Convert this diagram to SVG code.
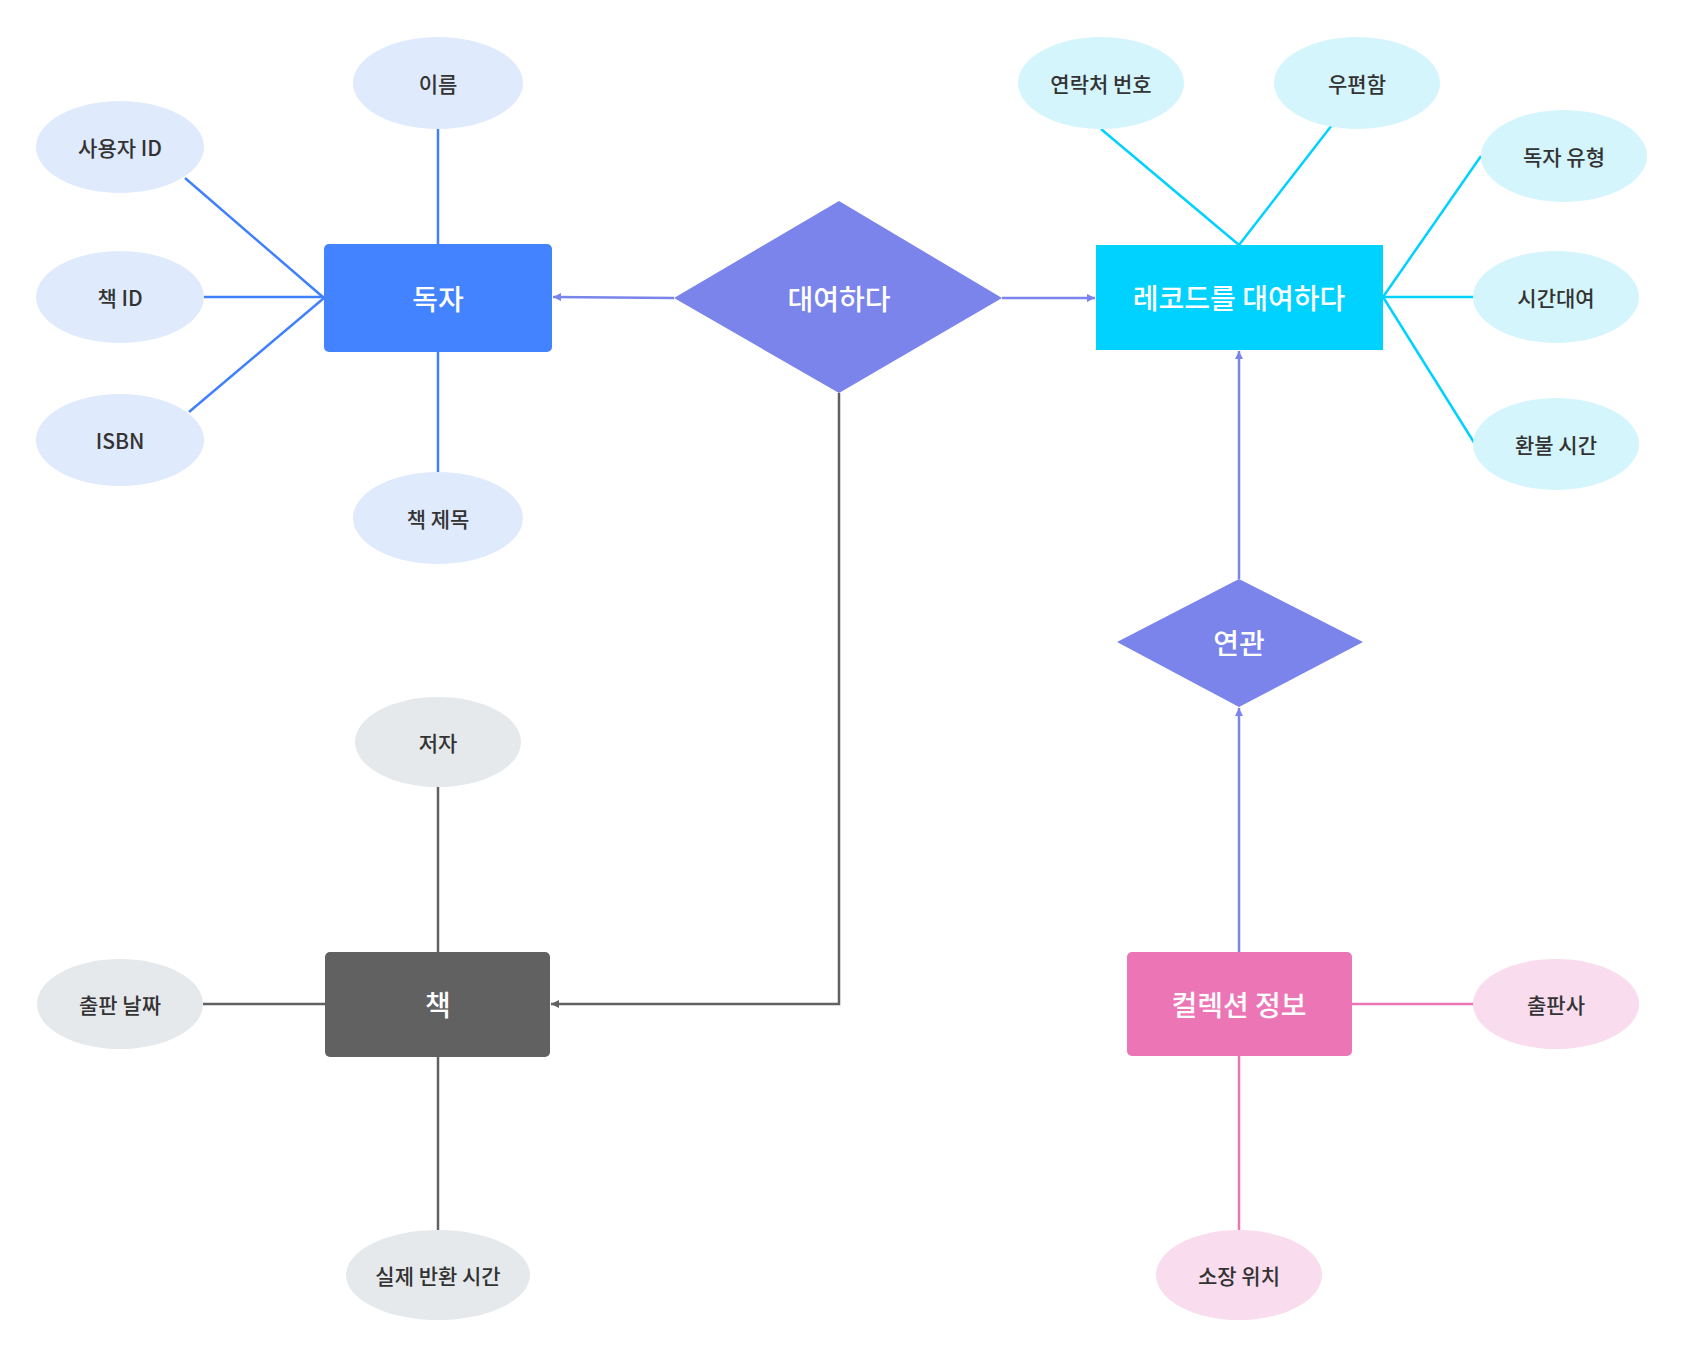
<svg xmlns="http://www.w3.org/2000/svg" width="1681" height="1354" viewBox="0 0 1681 1354">
<style>
text{font-family:"Noto Sans CJK KR","Noto Sans",sans-serif;text-anchor:middle;dominant-baseline:central}
.a{font-size:21px;fill:#333;font-weight:500}
.e{font-size:28px;fill:#fff;font-weight:500}
.ln{fill:none;stroke-width:2.5}
.b{stroke:#4080ff}.c{stroke:#00d2ff}.g{stroke:#616161}.p{stroke:#ec76b5}.v{stroke:#7b84eb}
.lb{fill:#dfeafd}.lc{fill:#d5f5fc}.lg{fill:#e6e9ec}.lp{fill:#f9dced}
</style>
<defs>
<marker id="av" viewBox="0 0 10 10" refX="10" refY="5" markerWidth="8" markerHeight="8" markerUnits="userSpaceOnUse" orient="auto"><path d="M0,0 L10,5 L0,10 z" fill="#7b84eb"/></marker>
<marker id="ag" viewBox="0 0 10 10" refX="10" refY="5" markerWidth="8" markerHeight="8" markerUnits="userSpaceOnUse" orient="auto"><path d="M0,0 L10,5 L0,10 z" fill="#616161"/></marker>
</defs>
<rect width="1681" height="1354" fill="#fff"/>
<g id="connectors">
<line class="ln b" x1="438" y1="129" x2="438" y2="244"/>
<line class="ln b" x1="185" y1="178" x2="324" y2="298"/>
<line class="ln b" x1="204" y1="297" x2="324" y2="297"/>
<line class="ln b" x1="189" y1="412" x2="324" y2="298"/>
<line class="ln b" x1="438" y1="352" x2="438" y2="472"/>
<line class="ln c" x1="1101" y1="129" x2="1239" y2="245"/>
<line class="ln c" x1="1332" y1="125" x2="1239" y2="245"/>
<line class="ln c" x1="1481" y1="156" x2="1383" y2="297"/>
<line class="ln c" x1="1474" y1="297" x2="1383" y2="297"/>
<line class="ln c" x1="1475" y1="444" x2="1383" y2="297"/>
<line class="ln g" x1="438" y1="787" x2="438" y2="952"/>
<line class="ln g" x1="203" y1="1004" x2="325" y2="1004"/>
<line class="ln g" x1="438" y1="1057" x2="438" y2="1230"/>
<line class="ln p" x1="1352" y1="1004" x2="1474" y2="1004"/>
<line class="ln p" x1="1239" y1="1056" x2="1239" y2="1230"/>
<line class="ln v" x1="674" y1="298" x2="553" y2="297" marker-end="url(#av)"/>
<line class="ln v" x1="1002" y1="298" x2="1095" y2="298" marker-end="url(#av)"/>
<line class="ln v" x1="1239" y1="579" x2="1239" y2="351" marker-end="url(#av)"/>
<line class="ln v" x1="1239" y1="952" x2="1239" y2="708" marker-end="url(#av)"/>
<polyline class="ln g" points="839,393 839,1004 551,1004" marker-end="url(#ag)"/>
</g>
<g id="dokja"><rect x="324" y="244" width="228" height="108" rx="5" fill="#4383ff"/><text class="e" x="438" y="298">독자</text></g>
<g id="ireum"><ellipse class="lb" cx="438" cy="83" rx="85" ry="46"/><text class="a" x="438" y="83">이름</text></g>
<g id="userid"><ellipse class="lb" cx="120" cy="147" rx="84" ry="46"/><text class="a" x="120" y="147">사용자 ID</text></g>
<g id="bookid"><ellipse class="lb" cx="120" cy="297" rx="84" ry="46"/><text class="a" x="120" y="297">책 ID</text></g>
<g id="isbn"><ellipse class="lb" cx="120" cy="440" rx="84" ry="46"/><text class="a" x="120" y="440">ISBN</text></g>
<g id="title"><ellipse class="lb" cx="438" cy="518" rx="85" ry="46"/><text class="a" x="438" y="518">책 제목</text></g>
<g id="rent"><polygon points="674,298 839,201 1002,298 839,393" fill="#7b84eb"/><text class="e" x="839" y="298">대여하다</text></g>
<g id="record"><rect x="1096" y="245" width="287" height="105" fill="#00d2ff"/><text class="e" x="1239" y="297">레코드를 대여하다</text></g>
<g id="contact"><ellipse class="lc" cx="1101" cy="83" rx="83" ry="46"/><text class="a" x="1101" y="83">연락처 번호</text></g>
<g id="mail"><ellipse class="lc" cx="1357" cy="83" rx="83" ry="46"/><text class="a" x="1357" y="83">우편함</text></g>
<g id="readertype"><ellipse class="lc" cx="1564" cy="156" rx="83" ry="46"/><text class="a" x="1564" y="156">독자 유형</text></g>
<g id="timerent"><ellipse class="lc" cx="1556" cy="297" rx="83" ry="46"/><text class="a" x="1556" y="297">시간대여</text></g>
<g id="refund"><ellipse class="lc" cx="1556" cy="444" rx="83" ry="46"/><text class="a" x="1556" y="444">환불 시간</text></g>
<g id="assoc"><polygon points="1117,642 1239,579 1363,642 1239,707" fill="#7b84eb"/><text class="e" x="1239" y="642">연관</text></g>
<g id="collection"><rect x="1127" y="952" width="225" height="104" rx="5" fill="#ec76b5"/><text class="e" x="1239" y="1004">컬렉션 정보</text></g>
<g id="publisher"><ellipse class="lp" cx="1556" cy="1004" rx="83" ry="45"/><text class="a" x="1556" y="1004">출판사</text></g>
<g id="location"><ellipse class="lp" cx="1239" cy="1275" rx="83" ry="45"/><text class="a" x="1239" y="1275">소장 위치</text></g>
<g id="book"><rect x="325" y="952" width="225" height="105" rx="5" fill="#616161"/><text class="e" x="438" y="1004">책</text></g>
<g id="author"><ellipse class="lg" cx="438" cy="742" rx="83" ry="45"/><text class="a" x="438" y="742">저자</text></g>
<g id="pubdate"><ellipse class="lg" cx="120" cy="1004" rx="83" ry="45"/><text class="a" x="120" y="1004">출판 날짜</text></g>
<g id="returntime"><ellipse class="lg" cx="438" cy="1275" rx="92" ry="45"/><text class="a" x="438" y="1275">실제 반환 시간</text></g>
</svg>
